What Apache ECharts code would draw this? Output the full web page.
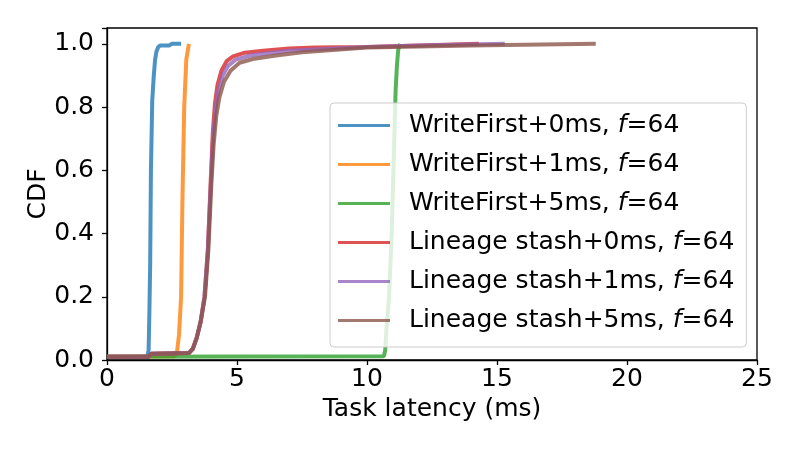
<!DOCTYPE html>
<html>
<head>
    <meta charset="UTF-8">
    <title>Task latency CDF</title>
    <script src="https://cdn.jsdelivr.net/npm/echarts@6/dist/echarts.min.js"></script>
    <style>
        html, body { margin: 0; padding: 0; background: #fff; }
        #chart { width: 800px; height: 450px; }
    </style>
</head>
<body>
<div id="chart"></div>
<script type="text/javascript">
    // 图例名称
    var seriesNames = [
        'WriteFirst+0ms, f=64',
        'WriteFirst+1ms, f=64',
        'WriteFirst+5ms, f=64',
        'Lineage stash+0ms, f=64',
        'Lineage stash+1ms, f=64',
        'Lineage stash+5ms, f=64'
    ];
    var seriesColors = ['#1f77b4', '#ff7f0e', '#2ca02c', '#d62728', '#9467bd', '#8c564b'];

    // [latency ms, CDF]
    var writeFirst0 = [[0, 0.01], [1.55, 0.01], [1.6, 0.03], [1.63, 0.15], [1.66, 0.3], [1.69, 0.6], [1.74, 0.82],
        [1.8, 0.9], [1.85, 0.95], [1.9, 0.975], [1.97, 0.99], [2.05, 0.995], [2.4, 0.995], [2.5, 1.0], [2.85, 1.0]];
    var writeFirst1 = [[0, 0.01], [2.6, 0.012], [2.7, 0.03], [2.77, 0.08], [2.85, 0.2], [2.9, 0.5], [2.97, 0.8],
        [3.05, 0.95], [3.15, 1.0]];
    var writeFirst5 = [[0, 0.01], [10.65, 0.012], [10.7, 0.03], [10.75, 0.1], [10.85, 0.2], [10.95, 0.4], [11.05, 0.7],
        [11.1, 0.85], [11.15, 0.93], [11.2, 0.98], [11.27, 1.0]];
    var lineage0 = [[0, 0.01], [1.6, 0.01], [1.7, 0.02], [3.15, 0.022], [3.3, 0.035], [3.45, 0.07], [3.6, 0.12],
        [3.75, 0.2], [3.88, 0.35], [3.98, 0.55], [4.07, 0.72], [4.15, 0.81], [4.25, 0.87], [4.4, 0.915],
        [4.6, 0.945], [4.85, 0.96], [5.3, 0.972], [6, 0.978], [7, 0.985], [8, 0.988], [10, 0.99], [12, 0.995],
        [14.3, 1.0]];
    var lineage1 = [[0, 0.01], [1.6, 0.01], [1.7, 0.02], [3.15, 0.022], [3.3, 0.035], [3.45, 0.07], [3.6, 0.12],
        [3.75, 0.2], [3.88, 0.35], [3.99, 0.55], [4.08, 0.7], [4.17, 0.79], [4.28, 0.85], [4.45, 0.9],
        [4.65, 0.93], [4.95, 0.95], [5.5, 0.963], [7, 0.978], [10, 0.99], [12, 0.995], [15.3, 1.0]];
    var lineage5 = [[0, 0.01], [1.6, 0.01], [1.7, 0.02], [3.15, 0.022], [3.3, 0.035], [3.45, 0.07], [3.6, 0.12],
        [3.77, 0.2], [3.9, 0.35], [4.01, 0.55], [4.1, 0.68], [4.2, 0.77], [4.32, 0.83], [4.5, 0.88],
        [4.75, 0.915], [5.1, 0.94], [5.6, 0.952], [6.5, 0.963], [7.5, 0.973], [10, 0.988], [14, 0.995], [18.8, 1.0]];
    var seriesData = [writeFirst0, writeFirst1, writeFirst5, lineage0, lineage1, lineage5];

    var xTicks = [0, 5, 10, 15, 20, 25];
    var yTicks = [0.0, 0.2, 0.4, 0.6, 0.8, 1.0];

    var font = 'DejaVu Sans';
    var fontSize = 25;
    var myChart = echarts.init(document.getElementById('chart'));

    var series = [];
    for (var i = 0; i < seriesNames.length; i++) {
        series.push({
            name: seriesNames[i],
            type: 'line',
            data: seriesData[i],
            showSymbol: false,
            symbol: 'none',
            lineStyle: { width: 4, opacity: 0.8, color: seriesColors[i] },
            itemStyle: { color: seriesColors[i], opacity: 0.8 }
        });
    }

    var option = {
        animation: false,
        color: seriesColors,
        grid: {
            left: 107, right: 43, top: 28, bottom: 90,
            show: true, borderColor: '#000', borderWidth: 1.3, backgroundColor: 'transparent'
        },
        legend: {
            orient: 'vertical',
            left: 330,
            top: 103,
            padding: [10, 12, 14, 8],
            itemGap: 14,
            itemWidth: 52,
            itemHeight: 3,
            icon: 'rect',
            backgroundColor: 'rgba(255,255,255,0.8)',
            borderColor: '#cccccc',
            borderWidth: 1,
            borderRadius: 4,
            data: seriesNames,
            formatter: function (name) {
                return name.replace(', f=', ', {i|f}=');
            },
            textStyle: {
                fontFamily: font,
                fontSize: fontSize,
                color: '#000',
                padding: [0, 0, 0, 14],
                rich: {
                    i: { fontFamily: font, fontSize: fontSize, fontStyle: 'italic', color: '#000' }
                }
            }
        },
        xAxis: {
            type: 'value',
            min: xTicks[0],
            max: xTicks[xTicks.length - 1],
            interval: 5,
            name: 'Task latency (ms)',
            nameLocation: 'middle',
            nameGap: 37,
            nameMoveOverlap: false,
            nameTextStyle: { fontFamily: font, fontSize: fontSize, color: '#000' },
            axisLine: { show: true, onZero: false, lineStyle: { color: '#000', width: 1.3 } },
            axisTick: { show: true, length: 5, lineStyle: { color: '#000', width: 1.3 } },
            axisLabel: { fontFamily: font, fontSize: fontSize, color: '#000', margin: 7 },
            splitLine: { show: false }
        },
        yAxis: {
            type: 'value',
            min: 0,
            max: 1.05,
            interval: 0.2,
            name: 'CDF',
            nameLocation: 'middle',
            nameGap: 56,
            nameMoveOverlap: false,
            nameTextStyle: { fontFamily: font, fontSize: fontSize, color: '#000' },
            axisLine: { show: true, onZero: false, lineStyle: { color: '#000', width: 1.3 } },
            axisTick: { show: true, length: 5, lineStyle: { color: '#000', width: 1.3 } },
            axisLabel: {
                fontFamily: font, fontSize: fontSize, color: '#000', margin: 13,
                formatter: function (v) {
                    for (var k = 0; k < yTicks.length; k++) {
                        if (Math.abs(v - yTicks[k]) < 1e-6) return yTicks[k].toFixed(1);
                    }
                    return '';
                }
            },
            splitLine: { show: false }
        },
        series: series
    };
    myChart.setOption(option);
</script>
</body>
</html>
